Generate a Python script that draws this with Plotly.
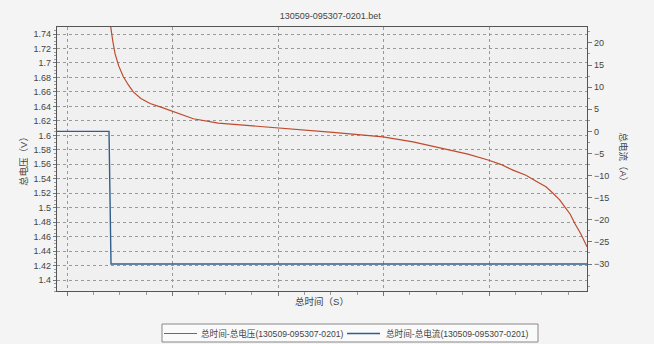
import plotly.graph_objects as go

volt_t = [408, 414, 434, 455, 490, 534, 580, 628, 700, 787, 890, 992, 1100, 1197, 1434, 1700,
          2000, 2260, 2521, 2760, 2995, 3280, 3602, 3800, 3991, 4110, 4227, 4350, 4455, 4540,
          4607, 4670, 4720, 4770, 4815, 4870, 4929]
volt_v = [1.760, 1.750, 1.730, 1.713, 1.696, 1.681, 1.670, 1.660, 1.651, 1.644, 1.639, 1.634,
          1.628, 1.623, 1.617, 1.614, 1.610, 1.607, 1.604, 1.601, 1.598, 1.591, 1.580, 1.574,
          1.566, 1.560, 1.552, 1.545, 1.536, 1.529, 1.520, 1.511, 1.501, 1.491, 1.478, 1.464,
          1.446]

curr_t = [-95, 398, 417, 4929]
curr_a = [0, 0, -30, -30]
curr_ticks = [-30, -25, -20, -15, -10, -5, 0, 5, 10, 15, 20]

title = "130509-095307-0201.bet"
name_v = "总时间-总电压(130509-095307-0201)"
name_i = "总时间-总电流(130509-095307-0201)"

FONT = "Liberation Sans, Noto Sans CJK SC, sans-serif"
C_V = "#bf4a2e"
C_I = "#2f5f8c"

L, R, T, B, W, H = 57, 67, 27, 53, 654, 344
PW, PH = W - L - R, H - T - B


def px(xp):
    return (xp - L) / PW


def py(yp):
    return (H - B - yp) / PH


fig = go.Figure()
fig.add_trace(go.Scatter(x=volt_t, y=volt_v, mode="lines", name=name_v,
                         line=dict(color=C_V, width=1.2), yaxis="y"))
fig.add_trace(go.Scatter(x=curr_t, y=curr_a, mode="lines", name=name_i,
                         line=dict(color=C_I, width=1.4), yaxis="y2"))

fig.update_layout(
    width=W, height=H,
    margin=dict(l=L, r=R, t=T, b=B, autoexpand=False),
    paper_bgcolor="#f4f4f4",
    plot_bgcolor="#f0f0f0",
    font=dict(family=FONT, size=9, color="#444"),
    title=dict(text=title, x=0.505, xanchor="center", y=0.955, yanchor="middle",
               font=dict(size=9, color="#444")),
    showlegend=False,
    xaxis=dict(range=[-95, 4929], dtick=1000, tick0=0, showticklabels=False,
               showgrid=True, gridcolor="#999", griddash="dot", gridwidth=1,
               zeroline=False, showline=True, linecolor="#555", linewidth=1.2,
               mirror=True, ticks="outside", ticklen=4, tickcolor="#777",
               minor=dict(dtick=250, ticks="outside", ticklen=3, tickcolor="#999", showgrid=False),
               title=dict(text="总时间（S）", font=dict(size=9.5, color="#444"), standoff=3)),
    yaxis=dict(range=[1.385, 1.7497], dtick=0.02, tick0=1.4, tickformat="~g",
               showgrid=True, gridcolor="#999", griddash="dot", gridwidth=1,
               zeroline=False, showline=True, linecolor="#555", linewidth=1.2,
               ticks="outside", ticklen=3, tickcolor="#777",
               minor=dict(dtick=0.005, ticks="outside", ticklen=2, tickcolor="#999", showgrid=False),
               title=dict(text="总电压（V）", font=dict(size=9.5, color="#444"), standoff=4)),
    yaxis2=dict(range=[-36.1, 23.6], tickmode="array", tickvals=curr_ticks, overlaying="y", side="right",
                showgrid=False, zeroline=False, showline=True, linecolor="#555", linewidth=1.2,
                ticks="outside", ticklen=4, tickcolor="#777",
                minor=dict(dtick=2.5, tick0=0, ticks="outside", ticklen=2, tickcolor="#999"),
                tickfont=dict(size=9, color="#444")),
)

fig.add_annotation(text="总电流（A）", xref="paper", yref="paper", x=1.0 + 29 / PW, y=0.5,
                   textangle=90, showarrow=False, font=dict(size=9.5, color="#444", family=FONT),
                   xanchor="left", yanchor="middle")

# manual legend box (matches the reference's compact boxed legend)
fig.add_shape(type="rect", xref="paper", yref="paper", x0=px(162), x1=px(538), y0=py(342), y1=py(324),
              line=dict(color="#888", width=1), fillcolor="#fafafa", layer="above")
fig.add_shape(type="line", xref="paper", yref="paper", x0=px(164), x1=px(197), y0=py(333.5), y1=py(333.5),
              line=dict(color=C_V, width=1.2))
fig.add_shape(type="line", xref="paper", yref="paper", x0=px(347), x1=px(380), y0=py(333.5), y1=py(333.5),
              line=dict(color=C_I, width=1.4))
fig.add_annotation(text=name_v, xref="paper", yref="paper", x=px(199), y=py(333.5), showarrow=False,
                   xanchor="left", yanchor="middle", font=dict(size=8.6, color="#444", family=FONT))
fig.add_annotation(text=name_i, xref="paper", yref="paper", x=px(384), y=py(333.5), showarrow=False,
                   xanchor="left", yanchor="middle", font=dict(size=8.6, color="#444", family=FONT))

fig.write_html("out.html")
